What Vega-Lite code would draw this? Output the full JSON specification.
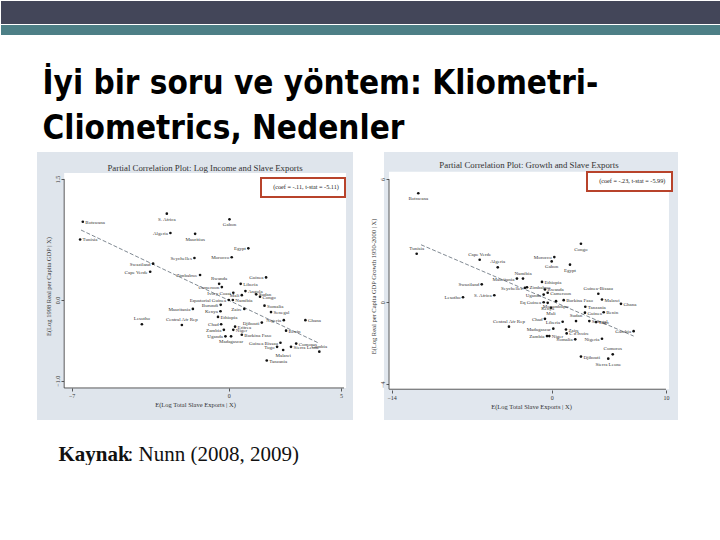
{
"$schema": "https://vega.github.io/schema/vega-lite/v6.json",
"background": "white",
"padding": 0,
"title": {"text": ": Nunn (2008, 2009)", "orient": "bottom", "anchor": "start", "dx": 127, "offset": -21, "font": "Liberation Serif", "fontSize": 21, "fontWeight": "normal", "color": "#111", "baseline": "top"},
"datasets": {
"left": [
{"c":"Botswana","x":-6.50,"y":0.97},{"c":"Tunisia","x":-6.62,"y":0.75},{"c":"S. Africa","x":-2.76,"y":1.07},{"c":"Gabon","x":0.03,"y":1.00},
{"c":"Algeria","x":-2.60,"y":0.83},{"c":"Mauritius","x":-1.50,"y":0.82},{"c":"Egypt","x":0.87,"y":0.64},{"c":"Seychelles","x":-1.53,"y":0.52},
{"c":"Morocco","x":0.13,"y":0.53},{"c":"Swaziland","x":-3.37,"y":0.45},{"c":"Cape Verde","x":-3.50,"y":0.35},{"c":"Zimbabwe","x":-1.28,"y":0.31},
{"c":"Guinea","x":1.66,"y":0.28},{"c":"Rwanda","x":-0.43,"y":0.20},{"c":"Liberia","x":0.53,"y":0.20},{"c":"Cameroon","x":-0.31,"y":0.16},
{"c":"Angola","x":0.74,"y":0.11},{"c":"Ivory Coast","x":0.20,"y":0.09},{"c":"Mali","x":0.58,"y":0.06},{"c":"Sudan","x":1.22,"y":0.07},
{"c":"Congo","x":1.39,"y":0.04},{"c":"Equatorial Guinea","x":0.00,"y":0.00},{"c":"Namibia","x":0.18,"y":0.00},{"c":"Burundi","x":-0.36,"y":-0.06},
{"c":"Somalia","x":1.59,"y":-0.07},{"c":"Mauritania","x":-1.60,"y":-0.11},{"c":"Zaire","x":0.69,"y":-0.11},{"c":"Kenya","x":-0.37,"y":-0.14},
{"c":"Senegal","x":1.88,"y":-0.15},{"c":"Ethiopia","x":-0.48,"y":-0.21},{"c":"Lesotho","x":-3.87,"y":-0.30},{"c":"Central Afr Rep","x":-2.09,"y":-0.31},
{"c":"Nigeria","x":2.45,"y":-0.25},{"c":"Ghana","x":3.41,"y":-0.25},{"c":"Djibouti","x":1.47,"y":-0.28},{"c":"Chad","x":-0.34,"y":-0.30},
{"c":"Eritrea","x":0.28,"y":-0.33},{"c":"Zambia","x":-0.22,"y":-0.37},{"c":"Niger","x":0.20,"y":-0.37},{"c":"Burkina Faso","x":0.58,"y":-0.43},
{"c":"Uganda","x":-0.15,"y":-0.45},{"c":"Madagascar","x":0.10,"y":-0.45},{"c":"Benin","x":2.55,"y":-0.38},{"c":"Guinea Bissau","x":2.30,"y":-0.53},
{"c":"Comoros","x":3.00,"y":-0.54},{"c":"Togo","x":2.15,"y":-0.58},{"c":"Sierra Leone","x":2.77,"y":-0.58},{"c":"Gambia","x":4.03,"y":-0.64},
{"c":"Malawi","x":2.42,"y":-0.62},{"c":"Tanzania","x":1.69,"y":-0.75}
],
"leftfit": [
{"x":-6.58,"y":0.867,"stat":"(coef = -.11, t-stat = -5.11)"},{"x":4.03,"y":-0.537,"stat":"(coef = -.11, t-stat = -5.11)"}
],
"right": [
{"c":"Botswana","x":-11.67,"y":5.31},{"c":"Tunisia","x":-11.81,"y":2.36},{"c":"Cape Verde","x":-6.30,"y":2.07},{"c":"Algeria","x":-4.72,"y":1.70},
{"c":"Morocco","x":0.23,"y":2.20},{"c":"Gabon","x":0.00,"y":1.99},{"c":"Congo","x":2.56,"y":2.85},{"c":"Egypt","x":1.60,"y":1.83},
{"c":"Mauritania","x":-3.04,"y":1.15},{"c":"Namibia","x":-2.51,"y":1.15},{"c":"Ethiopia","x":-0.85,"y":0.99},{"c":"Swaziland","x":-6.12,"y":0.87},
{"c":"Zimbabwe","x":-2.16,"y":0.73},{"c":"Seychelles","x":-2.34,"y":0.70},{"c":"Rwanda","x":-0.59,"y":0.62},{"c":"Guinea-Bissau","x":4.08,"y":0.41},
{"c":"Lesotho","x":-7.76,"y":0.24},{"c":"S. Africa","x":-5.02,"y":0.34},{"c":"Uganda","x":-0.70,"y":0.37},{"c":"Cameroon","x":-0.35,"y":0.46},
{"c":"Burkina Faso","x":1.05,"y":0.10},{"c":"Malawi","x":4.40,"y":0.13},{"c":"Ghana","x":6.06,"y":-0.08},{"c":"Eq Guinea","x":-0.70,"y":0.00},
{"c":"Kenya","x":-0.35,"y":-0.03},{"c":"Mozambique","x":0.38,"y":0.05},{"c":"Tanzania","x":2.94,"y":-0.22},{"c":"Mali","x":-0.06,"y":-0.27},
{"c":"Guinea","x":2.91,"y":-0.51},{"c":"Benin","x":4.55,"y":-0.49},{"c":"Sudan","x":2.13,"y":-0.92},{"c":"Senegal","x":3.29,"y":-0.92},
{"c":"Central Afr Rep","x":-3.74,"y":-1.19},{"c":"Chad","x":-0.59,"y":-0.81},{"c":"Liberia","x":0.96,"y":-0.95},{"c":"Togo","x":3.88,"y":-0.97},
{"c":"Gambia","x":7.17,"y":-1.41},{"c":"Madagascar","x":0.14,"y":-1.29},{"c":"Zaire","x":1.25,"y":-1.33},{"c":"Zambia","x":-0.41,"y":-1.65},
{"c":"Niger","x":-0.21,"y":-1.65},{"c":"C d'Ivoire","x":1.31,"y":-1.52},{"c":"Somalia","x":2.06,"y":-1.81},{"c":"Nigeria","x":4.40,"y":-1.78},
{"c":"Comoros","x":5.34,"y":-2.54},{"c":"Djibouti","x":2.56,"y":-2.65},{"c":"Sierra Leone","x":4.95,"y":-2.75}
],
"rightfit": [
{"x":-11.43,"y":2.8,"stat":"(coef = -.23, t-stat = -5.99)"},{"x":7.17,"y":-1.65,"stat":"(coef = -.23, t-stat = -5.99)"}
],
"one": [{"k": 1}]
},
"spacing": 32,
"vconcat": [
{"spacing": 0, "vconcat": [
 {"width": 720, "height": 23, "view": {"fill": "#434659", "stroke": null}, "data": {"name": "one"}, "mark": {"type": "rule", "opacity": 0}, "encoding": {}},
 {"width": 720, "height": 10, "view": {"fill": "#4d7f86", "stroke": null}, "data": {"name": "one"}, "mark": {"type": "rule", "opacity": 0}, "encoding": {}}
]},
{"title": {"text": "Kaynak", "orient": "bottom", "anchor": "start", "dx": 58, "offset": 24, "font": "Liberation Serif", "fontSize": 21, "fontWeight": "bold", "color": "#111", "baseline": "top"},
 "vconcat": [
{"spacing": 31, "bounds": "flush",
 "title": {"text": ["İyi bir soru ve yöntem: Kliometri-", "Cliometrics, Nedenler"], "anchor": "start", "dx": 42, "font": "DejaVu Sans Condensed", "fontSize": 33, "fontWeight": "bold", "color": "#000", "lineHeight": 45, "offset": 6},
 "resolve": {"scale": {"x": "independent", "y": "independent", "stroke": "independent"}, "legend": {"stroke": "independent"}},
 "hconcat": [
 {"width": 5, "height": 268, "view": {"stroke": null}, "data": {"name": "one"}, "mark": {"type": "rule", "opacity": 0}, "encoding": {}},
 {"width": 316, "height": 268,
  "view": {"fill": "#dfe5ec", "stroke": null},
  "title": {"text": "Partial Correlation Plot: Log Income and Slave Exports", "offset": -25, "baseline": "middle", "dx": 10, "fontSize": 8.8, "font": "Liberation Serif", "fontWeight": "normal", "color": "#333"},
  "layer": [
   {"data": {"name": "one"}, "mark": {"type": "rect", "fill": "white"},
    "encoding": {"x": {"datum": -7.33, "type": "quantitative", "scale": {"domain": [-8.54, 5.53], "nice": false, "zero": false}}, "x2": {"datum": 5.22}, "y": {"datum": -1.09, "type": "quantitative", "scale": {"domain": [-1.487, 1.834], "nice": false, "zero": false}}, "y2": {"datum": 1.574}}},
   {"data": {"name": "one"}, "mark": {"type": "rule", "color": "#333", "strokeWidth": 0.8},
    "encoding": {"x": {"datum": -7.33, "type": "quantitative"}, "y": {"datum": -1.09, "type": "quantitative"}, "y2": {"datum": 1.5}}},
   {"data": {"name": "one"}, "mark": {"type": "rule", "color": "#333", "strokeWidth": 0.8},
    "encoding": {"y": {"datum": -1.09, "type": "quantitative"}, "x": {"datum": -7.33, "type": "quantitative"}, "x2": {"datum": 5.13}}},
   {"encoding": {
     "x": {"field": "x", "type": "quantitative", "scale": {"domain": [-8.54, 5.53], "nice": false, "zero": false}, "axis": {"values": [-7, 0, 5], "offset": -32, "title": "E(Log Total Slave Exports | X)"}},
     "y": {"field": "y", "type": "quantitative", "scale": {"domain": [-1.487, 1.834], "nice": false, "zero": false}, "axis": {"values": [-1, 0, 1.5], "offset": -27, "labelAngle": 270, "title": "E(Log 1998 Real per Capita GDP | X)"}}
    },
    "layer": [
     {"data": {"name": "leftfit"}, "mark": {"type": "line", "strokeWidth": 0.8, "strokeDash": [4, 2]},
      "encoding": {"stroke": {"field": "stat", "type": "nominal", "scale": {"range": ["#5f6b76"]},
       "legend": {"orient": "none", "legendX": 224, "legendY": 26, "title": null, "strokeColor": "#b8432b", "fillColor": "white", "padding": 6, "symbolSize": 0, "symbolStrokeWidth": 0, "symbolOpacity": 0, "labelOffset": 0, "labelFont": "Liberation Serif", "labelFontSize": 6.2, "labelColor": "#222"}}}},
     {"data": {"name": "left"}, "mark": {"type": "circle", "size": 7, "color": "#111", "opacity": 1}},
     {"data": {"name": "left"}, "transform": [{"filter": {"field": "c", "oneOf": ["Botswana","Tunisia","Liberia","Angola","Sudan","Congo","Namibia","Somalia","Senegal","Ethiopia","Ghana","Eritrea","Niger","Burkina Faso","Benin","Comoros","Sierra Leone","Tanzania"]}}],
      "mark": {"type": "text", "align": "left", "dx": 2.5, "baseline": "middle", "fontSize": 5, "font": "Liberation Serif", "color": "#333"}, "encoding": {"text": {"field": "c"}}},
     {"data": {"name": "left"}, "transform": [{"filter": {"field": "c", "oneOf": ["Algeria","Egypt","Seychelles","Morocco","Swaziland","Cape Verde","Zimbabwe","Guinea","Cameroon","Ivory Coast","Mali","Equatorial Guinea","Burundi","Mauritania","Zaire","Kenya","Nigeria","Djibouti","Chad","Zambia","Uganda","Guinea Bissau","Togo"]}}],
      "mark": {"type": "text", "align": "right", "dx": -2.5, "baseline": "middle", "fontSize": 5, "font": "Liberation Serif", "color": "#333"}, "encoding": {"text": {"field": "c"}}},
     {"data": {"name": "left"}, "transform": [{"filter": {"field": "c", "oneOf": ["Rwanda","Lesotho","Central Afr Rep","Gambia"]}}],
      "mark": {"type": "text", "align": "center", "dy": -3, "baseline": "bottom", "fontSize": 5, "font": "Liberation Serif", "color": "#333"}, "encoding": {"text": {"field": "c"}}},
     {"data": {"name": "left"}, "transform": [{"filter": {"field": "c", "oneOf": ["S. Africa","Gabon","Mauritius","Malawi","Madagascar"]}}],
      "mark": {"type": "text", "align": "center", "dy": 3, "baseline": "top", "fontSize": 5, "font": "Liberation Serif", "color": "#333"}, "encoding": {"text": {"field": "c"}}}
    ]
   }
  ]
 },
 {"width": 294, "height": 268,
  "view": {"fill": "#e1e7ee", "stroke": null},
  "title": {"text": "Partial Correlation Plot: Growth and Slave Exports", "offset": -22, "baseline": "middle", "dx": -2, "fontSize": 8.8, "font": "Liberation Serif", "fontWeight": "normal", "color": "#333"},
  "layer": [
   {"data": {"name": "one"}, "mark": {"type": "rect", "fill": "white"},
    "encoding": {"x": {"datum": -14.23, "type": "quantitative", "scale": {"domain": [-14.67, 11.05], "nice": false, "zero": false}}, "x2": {"datum": 10.26}, "y": {"datum": -4.24, "type": "quantitative", "scale": {"domain": [-5.74, 7.32], "nice": false, "zero": false}}, "y2": {"datum": 6.36}}},
   {"data": {"name": "one"}, "mark": {"type": "rule", "color": "#333", "strokeWidth": 0.8},
    "encoding": {"x": {"datum": -14.23, "type": "quantitative"}, "y": {"datum": -4.24, "type": "quantitative"}, "y2": {"datum": 6.0}}},
   {"data": {"name": "one"}, "mark": {"type": "rule", "color": "#333", "strokeWidth": 0.8},
    "encoding": {"y": {"datum": -4.24, "type": "quantitative"}, "x": {"datum": -14.23, "type": "quantitative"}, "x2": {"datum": 10.0}}},
   {"encoding": {
     "x": {"field": "x", "type": "quantitative", "scale": {"domain": [-14.67, 11.05], "nice": false, "zero": false}, "axis": {"values": [-14, 0, 10], "offset": -30, "title": "E(Log Total Slave Exports | X)"}},
     "y": {"field": "y", "type": "quantitative", "scale": {"domain": [-5.74, 7.32], "nice": false, "zero": false}, "axis": {"values": [-4, 0, 6], "offset": -5, "labelAngle": 270, "title": "E(Log Real per Capita GDP Growth 1950-2000 | X)"}}
    },
    "layer": [
     {"data": {"name": "rightfit"}, "mark": {"type": "line", "strokeWidth": 0.8, "strokeDash": [4, 2]},
      "encoding": {"stroke": {"field": "stat", "type": "nominal", "scale": {"range": ["#5f6b76"]},
       "legend": {"orient": "none", "legendX": 203, "legendY": 20, "title": null, "strokeColor": "#b8432b", "fillColor": "white", "padding": 6, "symbolSize": 0, "symbolStrokeWidth": 0, "symbolOpacity": 0, "labelOffset": 0, "labelFont": "Liberation Serif", "labelFontSize": 6.2, "labelColor": "#222"}}}},
     {"data": {"name": "right"}, "mark": {"type": "circle", "size": 7, "color": "#111", "opacity": 1}},
     {"data": {"name": "right"}, "transform": [{"filter": {"field": "c", "oneOf": ["Ethiopia","Zimbabwe","Rwanda","Cameroon","Burkina Faso","Malawi","Ghana","Tanzania","Guinea","Benin","Senegal","Togo","Zaire","Niger","C d'Ivoire","Djibouti"]}}],
      "mark": {"type": "text", "align": "left", "dx": 2.5, "baseline": "middle", "fontSize": 5, "font": "Liberation Serif", "color": "#333"}, "encoding": {"text": {"field": "c"}}},
     {"data": {"name": "right"}, "transform": [{"filter": {"field": "c", "oneOf": ["Morocco","Mauritania","Swaziland","Seychelles","Lesotho","S. Africa","Uganda","Eq Guinea","Chad","Liberia","Gambia","Madagascar","Zambia","Somalia","Nigeria"]}}],
      "mark": {"type": "text", "align": "right", "dx": -2.5, "baseline": "middle", "fontSize": 5, "font": "Liberation Serif", "color": "#333"}, "encoding": {"text": {"field": "c"}}},
     {"data": {"name": "right"}, "transform": [{"filter": {"field": "c", "oneOf": ["Tunisia","Cape Verde","Algeria","Namibia","Guinea-Bissau","Sudan","Central Afr Rep","Comoros"]}}],
      "mark": {"type": "text", "align": "center", "dy": -3, "baseline": "bottom", "fontSize": 5, "font": "Liberation Serif", "color": "#333"}, "encoding": {"text": {"field": "c"}}},
     {"data": {"name": "right"}, "transform": [{"filter": {"field": "c", "oneOf": ["Botswana","Gabon","Congo","Egypt","Kenya","Mozambique","Mali","Sierra Leone"]}}],
      "mark": {"type": "text", "align": "center", "dy": 3, "baseline": "top", "fontSize": 5, "font": "Liberation Serif", "color": "#333"}, "encoding": {"text": {"field": "c"}}}
    ]
   }
  ]
 }
 ]
}
]}
],
"config": {
 "view": {"stroke": null},
 "axis": {"domain": false, "grid": false, "ticks": true, "tickColor": "#333", "tickSize": 3, "tickWidth": 0.8, "labelFont": "Liberation Serif", "labelFontSize": 6, "labelColor": "#333", "labelPadding": 1, "titleFont": "Liberation Serif", "titleFontSize": 6.5, "titleFontWeight": "normal", "titleColor": "#333", "titlePadding": 3},
 "legend": {"strokeWidth": 2},
 "title": {"font": "Liberation Serif", "fontWeight": "normal", "color": "#333"}
}
}
